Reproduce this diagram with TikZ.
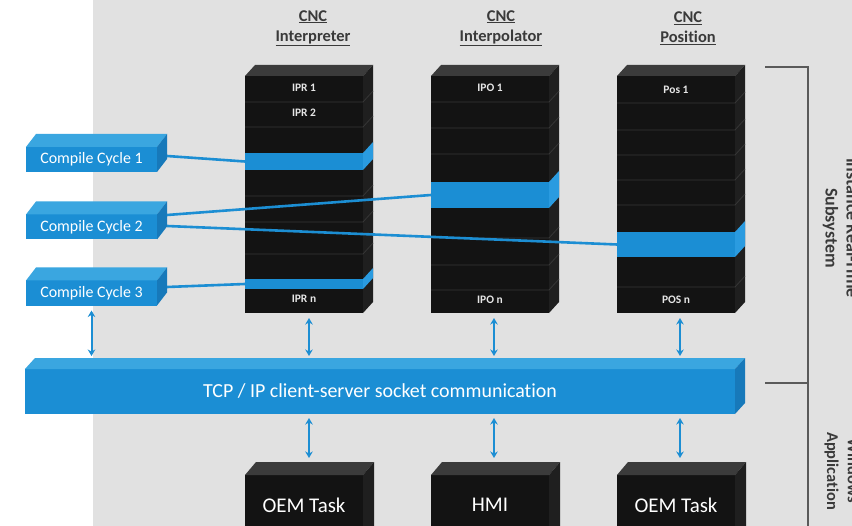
\documentclass[tikz,border=0pt]{standalone}
\usepackage{fontspec}
\setmainfont[Ligatures=NoCommon]{Carlito}
\usetikzlibrary{arrows.meta,calc}
\definecolor{bg}{HTML}{E1E1E1}
\definecolor{colfront}{HTML}{131313}
\definecolor{coltop}{HTML}{3B3B3B}
\definecolor{colside}{HTML}{1F1F1F}
\definecolor{rowc}{HTML}{363636}
\definecolor{bluef}{HTML}{1B8ED4}
\definecolor{bluetop}{HTML}{3AA6E0}
\definecolor{blueside}{HTML}{1779BA}
\definecolor{bandsidec}{HTML}{2A9BE0}
\definecolor{linkblue}{HTML}{1C8ED3}
\definecolor{hdrc}{HTML}{3A3A3A}
\definecolor{brkc}{HTML}{5A5A5A}
\definecolor{cellc}{HTML}{E6E6E6}
\newcommand\threed[5]{%
  \fill[#4] (#1.north west) -- ++(#2,-#3) -- ($(#1.north east)+(#2,-#3)$) -- (#1.north east) -- cycle;
  \fill[#5] (#1.north east) -- ($(#1.north east)+(#2,-#3)$) -- ($(#1.south east)+(#2,-#3)$) -- (#1.south east) -- cycle;}
\begin{document}
\begin{tikzpicture}[x=1bp,y=-1bp,
  every node/.style={inner sep=0pt, outer sep=0pt},
  colf/.style={fill=colfront, minimum width=118bp, minimum height=237bp},
  bandf/.style={fill=bluef, minimum width=118bp, anchor=north west},
  cyc/.style={fill=bluef, minimum width=131bp, minimum height=25bp, text=white, font=\fontsize{16}{18}\selectfont},
  tcpf/.style={fill=bluef, minimum width=710bp, minimum height=45bp, text=white, font=\fontsize{20}{22}\selectfont},
  oemf/.style={fill=colfront, minimum width=118bp, minimum height=70bp, anchor=north west},
  oemt/.style={text=white, font=\fontsize{21}{23}\selectfont},
  celltext/.style={text=cellc, font=\bfseries\fontsize{11.5}{12}\selectfont},
  hdrt/.style={text=hdrc, align=center, font=\bfseries\fontsize{16.5}{20}\selectfont},
  sidetext/.style={text=hdrc, rotate=-90, align=center},
  linkl/.style={draw=linkblue, line width=2.6bp},
  dbl/.style={draw=linkblue, line width=2bp, {Stealth[length=6.5bp,width=7.5bp]}-{Stealth[length=6.5bp,width=7.5bp]}},
  rowline/.style={draw=rowc, line width=0.8bp},
  brkl/.style={draw=brkc, line width=2bp}]
\clip (0,0) rectangle (852,526);
\fill[white] (0,0) rectangle (852,526);
\fill[bg] (93,0) rectangle (852,526);

% headers
\node[hdrt] (h1) at (313,28) {\underline{CNC}\\\underline{Interpreter}};
\node[hdrt] (h2) at (501,28) {\underline{CNC}\\\underline{Interpolator}};
\node[hdrt] (h3) at (688,28) {\underline{CNC}\\\underline{Position}};

% columns
\node[colf] (ipr) at (304,194.5) {};
\threed{ipr}{10}{11}{coltop}{colside}
\foreach \yy in {102,127,196,222,254} \draw[rowline] (245,\yy) -- (363,\yy) -- ++(10,-11);
\node[colf] (ipo) at (490,194.5) {};
\threed{ipo}{10}{11}{coltop}{colside}
\foreach \yy in {102,128,154,238,265,290} \draw[rowline] (431,\yy) -- (549,\yy) -- ++(10,-11);
\node[colf] (pos) at (676,194.5) {};
\threed{pos}{10}{11}{coltop}{colside}
\foreach \yy in {103,130,155,180,205,287} \draw[rowline] (617,\yy) -- (735,\yy) -- ++(10,-11);

% bands
\node[bandf, minimum height=17bp] (b1) at (245,153) {};
\fill[bandsidec] (b1.north east) -- ++(10,-11) -- ($(b1.south east)+(10,-11)$) -- (b1.south east) -- cycle;
\node[bandf, minimum height=10bp] (b4) at (245,279) {};
\fill[bandsidec] (b4.north east) -- ++(10,-11) -- ($(b4.south east)+(10,-11)$) -- (b4.south east) -- cycle;
\node[bandf, minimum height=26bp] (b2) at (431,182) {};
\fill[bandsidec] (b2.north east) -- ++(10,-11) -- ($(b2.south east)+(10,-11)$) -- (b2.south east) -- cycle;
\node[bandf, minimum height=25bp] (b3) at (617,232) {};
\fill[bandsidec] (b3.north east) -- ++(10,-11) -- ($(b3.south east)+(10,-11)$) -- (b3.south east) -- cycle;

% cell labels
\node[celltext] (t1) at (304,88) {IPR 1};
\node[celltext] (t2) at (304,113) {IPR 2};
\node[celltext] (t3) at (304,299) {IPR n};
\node[celltext] (t4) at (490,88) {IPO 1};
\node[celltext] (t5) at (490,300) {IPO n};
\node[celltext] (t6) at (676,90) {Pos 1};
\node[celltext] (t7) at (676,300) {POS n};

% compile cycles
\node[cyc] (c1) at (91.5,159.5) {Compile Cycle 1};
\threed{c1}{10}{13}{bluetop}{blueside}
\node[cyc] (c2) at (91.5,227) {Compile Cycle 2};
\threed{c2}{10}{13}{bluetop}{blueside}
\node[cyc] (c3) at (91.5,293) {Compile Cycle 3};
\threed{c3}{10}{13}{bluetop}{blueside}

% links
\draw[linkl] ($(c1.east)+(10,-3.5)$) -- (b1.west);
\draw[linkl] ($(c2.east)+(10,-12)$) -- (b2.west);
\draw[linkl] ($(c2.east)+(10,-1)$) -- (b3.west);
\draw[linkl] ($(c3.east)+(10,-6)$) -- (b4.west);

% TCP bar
\node[tcpf] (tcp) at (380,391.5) {TCP / IP client-server socket communication};
\threed{tcp}{10}{11}{bluetop}{blueside}

% bottom boxes
\node[oemf] (oem1) at (245,475) {};
\threed{oem1}{11}{13}{coltop}{colside}
\node[oemf] (hmi) at (431,475) {};
\threed{hmi}{11}{13}{coltop}{colside}
\node[oemf] (oem2) at (617,475) {};
\threed{oem2}{11}{13}{coltop}{colside}
\node[oemt] (o1t) at (304,505) {OEM Task};
\node[oemt] (o2t) at (490,505) {HMI};
\node[oemt] (o3t) at (676,505) {OEM Task};

% arrows
\coordinate (a0) at (c3.south);
\coordinate (a1) at ($(ipr.south)+(5,0)$);
\coordinate (a2) at ($(ipo.south)+(4,0)$);
\coordinate (a3) at ($(pos.south)+(4,0)$);
\draw[dbl, shorten <=5bp, shorten >=13bp] (a0) -- (a0 |- tcp.north);
\foreach \a in {a1,a2,a3} {
  \draw[dbl, shorten <=5bp, shorten >=13bp] (\a) -- (\a |- tcp.north);
}
\draw[dbl, shorten <=4bp, shorten >=17bp] (a1 |- tcp.south) -- (a1 |- oem1.north);
\draw[dbl, shorten <=4bp, shorten >=17bp] (a2 |- tcp.south) -- (a2 |- hmi.north);
\draw[dbl, shorten <=4bp, shorten >=17bp] (a3 |- tcp.south) -- (a3 |- oem2.north);

% right bracket
\coordinate (k1) at (765,67);
\coordinate (k2) at (808,67);
\coordinate (k3) at (808,530);
\coordinate (k4) at (765,383);
\draw[brkl] (k1) -- (k2) -- (k3);
\draw[brkl] (k4) -- (k4 -| k2);
\node[sidetext, font=\bfseries\fontsize{18}{21}\selectfont] (s1) at (841,228) {Instance Real-Time\\Subsystem};
\node[sidetext, font=\bfseries\fontsize{16.5}{21}\selectfont] (s2) at (842,471) {Windows\\Application};
\end{tikzpicture}
\end{document}
